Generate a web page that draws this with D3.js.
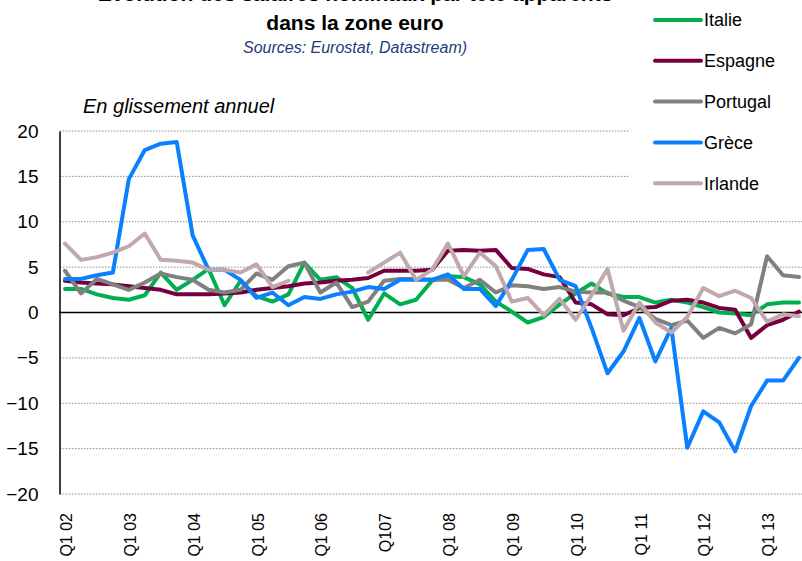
<!DOCTYPE html>
<html>
<head>
<meta charset="utf-8">
<script src="https://cdn.jsdelivr.net/npm/d3@7"></script>
<style>
  body { margin: 0; background: white; }
  svg { font-family: "Liberation Sans", Arial, sans-serif; }
</style>
</head>
<body>
<div class="chart"></div>
<script>
// quarters Q1 02 .. Q3 13
var years = ["02","03","04","05","06","07","08","09","10","11","12","13"]
var quarters = []
years.forEach(function(y){
    for (var q = 1; q <= 4; q++) quarters.push("Q" + q + " " + y)
})
quarters = quarters.slice(0, 47)

var tickQuarters = ["Q1 02","Q1 03","Q1 04","Q1 05","Q1 06","Q1 07","Q1 08","Q1 09","Q1 10","Q1 11","Q1 12","Q1 13"]
var tickLabels = ["Q1 02","Q1 03","Q1 04","Q1 05","Q1 06","Q107","Q1 08","Q1 09","Q1 10","Q1 11","Q1 12","Q1 13"]
var yTicks = [20, 15, 10, 5, 0, -5, -10, -15, -20]

var countries = ["Italie", "Espagne", "Portugal", "Grèce", "Irlande"]
var colors = ["#00b050", "#76003f", "#808080", "#0a80ff", "#c0a8ad"]

var italie = [2.6,2.6,2.0,1.6,1.4,1.9,4.4,2.5,3.6,4.8,0.8, 3.5,1.8,1.2,2.0,5.5,3.6,3.9,2.7,-0.8,2.1,
    0.9,1.4,3.5,4.0,3.9,3.1,1.2,0.1,-1.1,-0.5, 0.9,2.1,3.2,2.1,1.7,1.7,1.1,1.4,1.1,0.6, 0.0,-0.1,-0.3,0.9,1.1,1.1]
var espagne = [3.5,3.3,3.2,3.1,2.9,2.7,2.5,2.0,2.0,2.0,2.1, 2.2,2.5,2.7,2.9,3.2,3.3,3.5,3.6,3.8,4.6,
    4.6,4.6,4.7,6.8,6.9,6.8,6.9,4.9,4.8,4.2, 3.9,1.1,0.9,-0.2,-0.3,0.5,0.6,1.3,1.4,1.1, 0.5,0.3,-2.8,-1.4,-0.8,0.1]
var portugal = [4.6,2.1,3.7,3.1,2.5,3.3,4.3,3.9,3.6,2.5,2.2, 2.5,4.3,3.6,5.1,5.5,2.2,3.3,0.6,1.2,3.5,
    3.7,3.7,3.6,3.6,2.7,3.6,2.2,3.0,2.9,2.6, 2.8,2.3,2.2,2.2,1.3,0.6,-0.7,-1.4,-0.9,-2.8, -1.7,-2.3,-1.3,6.2,4.1,3.9]
var grece = [3.7,3.7,4.1,4.4,14.7,17.9,18.6,18.8,8.5,4.7,4.7, 3.6,1.6,2.2,0.8,1.7,1.5,2.0,2.3,2.8,2.6,
    3.6,3.6,3.6,4.2,2.6,2.6,0.7,3.6,6.9,7.0, 3.6,2.9,-1.7,-6.7,-4.3,-0.6,-5.4,-1.7,-14.9,-10.9, -12.1,-15.3,-10.3,-7.5,-7.5,-5.0]
var irlande = [7.6,5.8,6.1,6.6,7.3,8.7,5.8,5.7,5.5,4.7,4.7, 4.4,5.3,2.8,3.5,null,null,null,null,4.4,5.5,
    6.6,3.6,4.7,7.6,4.0,6.6,5.1,1.2,1.6,-0.3, 1.5,-0.8,1.9,4.8,-2.0,1.1,-1.1,-2.2,-0.5,2.7, 1.8,2.4,1.6,-1.0,-0.2,-0.4]

var series = [italie, espagne, portugal, grece, irlande]

var svg = d3.select(".chart").append("svg")
    .attr("width", 802)
    .attr("height", 561)

var x = d3.scalePoint()
    .domain(quarters)
    .range([65, 799])

var y = d3.scaleLinear()
    .domain([-20, 20])
    .range([494, 131])

// titles (first line is cut by the top edge, as in the source)
svg.append("text")
    .attr("x", 355).attr("y", 1)
    .attr("text-anchor", "middle")
    .style("font-size", "21px").style("font-weight", "bold")
    .text("Évolution des salaires nominaux par tête apparents")
svg.append("text")
    .attr("x", 355).attr("y", 30)
    .attr("text-anchor", "middle")
    .style("font-size", "21px").style("font-weight", "bold")
    .text("dans la zone euro")
svg.append("text")
    .attr("x", 355).attr("y", 53)
    .attr("text-anchor", "middle")
    .attr("fill", "#1f3a78")
    .style("font-size", "16px").style("font-style", "italic")
    .text("Sources: Eurostat, Datastream)")
svg.append("text")
    .attr("x", 83).attr("y", 113)
    .style("font-size", "20px").style("font-style", "italic")
    .text("En glissement annuel")

// gridlines
svg.append("g").selectAll("line")
    .data(yTicks.filter(function(d){ return d != 0 }))
    .enter().append("line")
    .attr("x1", 60).attr("x2", 802)
    .attr("y1", function(d){ return y(d) })
    .attr("y2", function(d){ return y(d) })
    .attr("stroke", "#8c8c8c")
    .attr("stroke-width", 1)
    .attr("stroke-dasharray", "1.5,1.5")

// y axis
var yAxis = d3.axisLeft(y).tickValues(yTicks).tickSize(0).tickPadding(21)
svg.append("g")
    .attr("class", "axis y")
    .attr("transform", "translate(59.5,0)")
    .call(yAxis)
    .call(function(g){
        g.select(".domain").attr("stroke", "black").attr("stroke-width", 1.5)
        g.selectAll("text").style("font-size", "19px").style("font-family", "Liberation Sans").attr("fill", "black")
    })

// zero line
svg.append("line")
    .attr("x1", 59).attr("x2", 802)
    .attr("y1", y(0)).attr("y2", y(0))
    .attr("stroke", "black").attr("stroke-width", 1.5)

// x labels
svg.append("g").selectAll("text")
    .data(tickQuarters).enter().append("text")
    .attr("transform", function(d){ return "translate(" + (x(d) + 1.5) + ",513) rotate(-90)" })
    .attr("text-anchor", "end")
    .attr("dy", "0.35em")
    .style("font-size", "16px")
    .text(function(d, i){ return tickLabels[i] })

// lines
var line = d3.line()
    .defined(function(d){ return d != null })
    .x(function(d, i){ return x(quarters[i]) })
    .y(function(d){ return y(d) })

svg.append("g").selectAll("path")
    .data(series).enter().append("path")
    .attr("d", line)
    .attr("fill", "none")
    .attr("stroke", function(d, i){ return colors[i] })
    .attr("stroke-width", 4)
    .attr("stroke-linejoin", "round")
    .attr("stroke-linecap", "round")

// legend
svg.append("rect")
    .attr("x", 630).attr("y", 0)
    .attr("width", 172).attr("height", 200)
    .attr("fill", "white")

var legend = svg.append("g").selectAll("g")
    .data(countries).enter().append("g")
    .attr("transform", function(d, i){ return "translate(0," + (20 + i * 40.8) + ")" })
legend.append("line")
    .attr("x1", 655).attr("x2", 701)
    .attr("stroke", function(d, i){ return colors[i] })
    .attr("stroke-width", 4)
    .attr("stroke-linecap", "round")
legend.append("text")
    .attr("x", 704)
    .attr("dy", "0.35em")
    .style("font-size", "18px")
    .text(function(d){ return d })
</script>
</body>
</html>
